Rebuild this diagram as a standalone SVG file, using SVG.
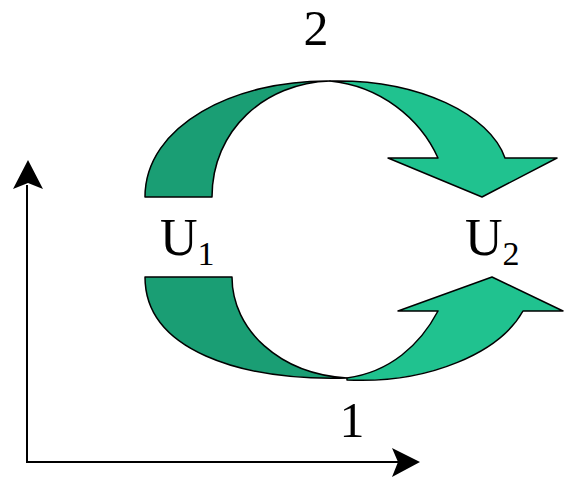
<svg xmlns="http://www.w3.org/2000/svg" width="564" height="483" viewBox="0 0 564 483">
<style>
.dark{fill:#1a9e74;stroke:#000;stroke-width:1.5;stroke-linejoin:round}
.light{fill:#20c28f;stroke:#000;stroke-width:1.5;stroke-linejoin:round}
.axis{stroke:#000;stroke-width:2;fill:none}
.head{fill:#000}
text{font-family:"Liberation Serif","Times New Roman",serif;fill:#000}
.big{font-size:52px}
.num{font-size:50px}
.sub{font-size:34px}
</style>
<rect width="564" height="483" fill="#fff"/>
<g id="top-arrow">
<path class="dark" d="M145,197 L212,197 C212,130 265,83 330,81 C235,80 145,125 145,197 Z"/>
<path class="light" d="M330,81 C420,79 490,115 505,158 L557,158 L482,197 L388,158 L438,158 C420,118 380,86 330,81 Z"/>
</g>
<g id="bottom-arrow">
<path class="dark" d="M145,277 L232,277 C232,330 280,374 347,378 C240,381 145,350 145,277 Z"/>
<path class="light" d="M347,378 C390,372 420,345 438,311 L398,311 L492,277 L563,311 L523,311 C500,352 430,384 347,380 Z"/>
</g>
<g id="axes">
<path class="axis" d="M27,185 L27,462 L400,462"/>
<path class="head" d="M28,160 L43,189 L28,183 L13,189 Z"/>
<path class="head" d="M420,462 L392,448 L398,462 L392,477 Z"/>
</g>
<g id="label-2"><text class="num" x="316" y="45" text-anchor="middle">2</text></g>
<g id="label-1"><text class="num" x="352" y="437" text-anchor="middle">1</text></g>
<g id="label-U1"><text x="160" y="255"><tspan class="big">U</tspan><tspan class="sub" dy="10">1</tspan></text></g>
<g id="label-U2"><text x="465" y="255"><tspan class="big">U</tspan><tspan class="sub" dy="10">2</tspan></text></g>
</svg>
